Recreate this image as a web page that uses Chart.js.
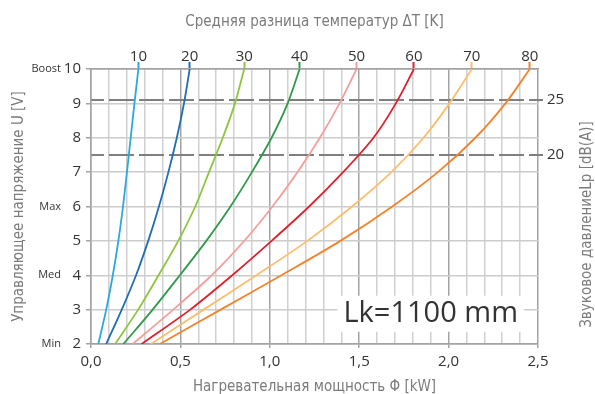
<!DOCTYPE html>
<html>
<head>
<meta charset="utf-8">
<script src="https://cdn.jsdelivr.net/npm/chart.js@4.4.1/dist/chart.umd.min.js"></script>
<style>
    html, body { margin: 0; padding: 0; background: #fff; }
</style>
</head>
<body>
<canvas id="Lk_Chart" width="595" height="394"></canvas>
<script>
// Spanning U [V] (verticale as) en de namen van de standen
var spanning = [2, 3, 4, 5, 6, 7, 8, 9, 10];
var standWaarden = [10, 6, 4, 2];
var standNamen = ['Boost', 'Max', 'Med', 'Min'];

// Temperatuurverschil dT [K] per curve
var deltaT = ['10', '20', '30', '40', '50', '60', '70', '80'];

var vermogenDT10 = [0.041, 0.085, 0.122, 0.153, 0.179, 0.201, 0.222, 0.243, 0.265];
var vermogenDT20 = [0.085, 0.172, 0.252, 0.320, 0.380, 0.433, 0.480, 0.520, 0.552];
var vermogenDT30 = [0.135, 0.264, 0.378, 0.488, 0.583, 0.660, 0.737, 0.805, 0.857];
var vermogenDT40 = [0.181, 0.345, 0.497, 0.645, 0.780, 0.900, 1.010, 1.100, 1.167];
var vermogenDT50 = [0.233, 0.460, 0.675, 0.857, 1.015, 1.155, 1.280, 1.390, 1.485];
var vermogenDT60 = [0.283, 0.555, 0.790, 1.010, 1.220, 1.410, 1.580, 1.705, 1.806];
var vermogenDT70 = [0.335, 0.630, 0.925, 1.210, 1.460, 1.680, 1.860, 2.005, 2.130];
var vermogenDT80 = [0.385, 0.725, 1.065, 1.395, 1.685, 1.940, 2.150, 2.318, 2.454];
var vermogens = [vermogenDT10, vermogenDT20, vermogenDT30, vermogenDT40,
                 vermogenDT50, vermogenDT60, vermogenDT70, vermogenDT80];

var kleuren = ['#29a9e0', '#1f6db2', '#8cc63e', '#2f9a48', '#f4a09c', '#e21f2c', '#fdbd6c', '#f5832a'];

// Geluidsdruk Lp [dB(A)] en de spanning waar die lijn ligt
var geluidLabels = ['25', '20'];
var geluidSpanning = [9.1, 7.5];

// Tekst in het kader en de plek ervan (in as-eenheden)
var kaderTekst = 'Lk=1100 mm';
var kaderVermogen = 1.9;
var kaderSpanning = 2.88;

var grijsTekst = '#7b7b7b';
var titelFont = "'Liberation Sans Narrow', 'DejaVu Sans Condensed', Roboto, sans-serif";
var cijferFont = "'Open Sans', 'Liberation Sans', sans-serif";
var rechtsTitel = 'Звуковое давлениеLp [dB(A)]';

function isHoofdlijn(waarde) {
    return Math.round(waarde * 10) % 5 === 0;
}

// Datasets opbouwen uit de arrays
function maakDatasets() {
    return deltaT.map(function (dt, i) {
        return {
            label: 'ΔT ' + dt,
            data: spanning.map(function (u, j) { return { x: vermogens[i][j], y: u }; }),
            borderColor: kleuren[i],
            borderWidth: 1.8,
            pointRadius: 0,
            tension: 0.3,
            fill: false,
            xAxisID: 'x',
            yAxisID: 'y'
        };
    });
}

// Titel rechts (van onder naar boven) en het Lk-kader
var extraTekst = {
    id: 'extraTekst',
    afterDatasetsDraw: function (chart) {
        var ctx = chart.ctx;
        var px = chart.scales.x.getPixelForValue(kaderVermogen);
        var py = chart.scales.y.getPixelForValue(kaderSpanning);
        ctx.save();
        ctx.font = '29px ' + cijferFont;
        var breedte = ctx.measureText(kaderTekst).width;
        ctx.fillStyle = '#fff';
        ctx.fillRect(px - breedte / 2 - 6, py - 18, breedte + 12, 36);
        ctx.fillStyle = '#333';
        ctx.textAlign = 'center';
        ctx.textBaseline = 'middle';
        ctx.fillText(kaderTekst, px, py);
        ctx.restore();
    },
    afterDraw: function (chart) {
        var ctx = chart.ctx;
        var s = chart.scales.y2;
        ctx.save();
        ctx.translate(s.right - 8, (chart.chartArea.top + chart.chartArea.bottom) / 2 + 18);
        ctx.rotate(-Math.PI / 2);
        ctx.font = '15px ' + titelFont;
        ctx.fillStyle = grijsTekst;
        ctx.textAlign = 'center';
        ctx.textBaseline = 'middle';
        ctx.fillText(rechtsTitel, 0, 0);
        ctx.restore();
    }
};

function tekenGrafiek() {
    var ctx = document.getElementById('Lk_Chart').getContext('2d');
    new Chart(ctx, {
        type: 'line',
        data: { datasets: maakDatasets() },
        plugins: [extraTekst],
        options: {
            responsive: false,
            animation: false,
            layout: { padding: 0 },
            plugins: { legend: { display: false }, tooltip: { enabled: false } },
            scales: {
                x: {
                    type: 'linear', position: 'bottom', min: 0, max: 2.5,
                    afterBuildTicks: function (s) {
                        s.ticks = [];
                        for (var i = 0; i <= 25; i++) s.ticks.push({ value: i / 10 });
                    },
                    afterFit: function (s) { s.height = 50; },
                    ticks: {
                        autoSkip: false, maxRotation: 0, padding: 5,
                        color: '#333', font: { family: cijferFont, size: 15 },
                        callback: function (v) { return isHoofdlijn(v) ? v.toFixed(1).replace('.', ',') : ''; }
                    },
                    grid: {
                        lineWidth: 1.5, tickLength: 4,
                        color: function (c) { return c.tick && isHoofdlijn(c.tick.value) ? '#a3a3a3' : '#d0d0d0'; },
                        tickColor: function (c) { return c.tick && isHoofdlijn(c.tick.value) ? '#a3a3a3' : 'rgba(0,0,0,0)'; }
                    },
                    border: { display: true, color: '#a3a3a3', width: 1.5 },
                    title: {
                        display: true, text: 'Нагревательная мощность Φ [kW]', color: grijsTekst,
                        font: { family: titelFont, size: 15 }, padding: { top: 0, bottom: -2 }
                    }
                },
                x2: {
                    type: 'linear', position: 'top', min: 0, max: 2.5,
                    afterBuildTicks: function (s) {
                        s.ticks = vermogens.map(function (rij) { return { value: rij[rij.length - 1] }; });
                    },
                    afterFit: function (s) { s.height = 69; },
                    ticks: {
                        autoSkip: false, maxRotation: 0, padding: -4,
                        color: '#333', font: { family: cijferFont, size: 15 },
                        callback: function (v, i) { return deltaT[i]; }
                    },
                    grid: {
                        drawOnChartArea: false, tickLength: 7, tickWidth: 2,
                        tickColor: function (c) { return kleuren[c.index]; }
                    },
                    border: { display: true, color: '#a3a3a3', width: 1.5 },
                    title: {
                        display: true, text: 'Средняя разница температур ΔT [K]', color: grijsTekst,
                        font: { family: titelFont, size: 15 }, padding: { top: 13, bottom: 0 }
                    }
                },
                y: {
                    type: 'linear', position: 'left', weight: 0, min: 2, max: 10,
                    afterFit: function (s) { s.width = 30; },
                    ticks: { stepSize: 1, padding: 5, color: '#333', font: { family: cijferFont, size: 15 } },
                    grid: {
                        lineWidth: 1.5, tickLength: 5, tickColor: '#a3a3a3',
                        color: function (c) { return c.tick && (c.tick.value === 2 || c.tick.value === 10) ? '#a3a3a3' : '#cccccc'; }
                    },
                    border: { display: true, color: '#a3a3a3', width: 1.5 }
                },
                yNaam: {
                    type: 'linear', position: 'left', weight: 1, min: 2, max: 10,
                    afterBuildTicks: function (s) {
                        s.ticks = standWaarden.map(function (v) { return { value: v }; });
                    },
                    afterFit: function (s) { s.width = 61; },
                    ticks: {
                        padding: 0, color: '#333', font: { family: cijferFont, size: 11 },
                        callback: function (v) { return standNamen[standWaarden.indexOf(v)]; }
                    },
                    grid: { display: false, drawTicks: false },
                    border: { display: false },
                    title: {
                        display: true, text: 'Управляющее напряжение U [V]', color: grijsTekst,
                        font: { family: titelFont, size: 15 }, padding: { top: 10, bottom: 0 }
                    }
                },
                y2: {
                    type: 'linear', position: 'right', min: 2, max: 10,
                    afterBuildTicks: function (s) {
                        s.ticks = geluidSpanning.map(function (v) { return { value: v }; });
                    },
                    afterFit: function (s) { s.width = 57; },
                    ticks: {
                        padding: 4, color: '#333', font: { family: cijferFont, size: 15 },
                        callback: function (v) { return geluidLabels[geluidSpanning.indexOf(v)]; }
                    },
                    grid: {
                        drawOnChartArea: true, color: '#7f7f7f', lineWidth: 2,
                        tickLength: 5, tickWidth: 2, tickColor: '#7f7f7f', tickBorderDash: []
                    },
                    border: { display: false, dash: [25, 5], dashOffset: 12 }
                }
            }
        }
    });
}

tekenGrafiek();
</script>
</body>
</html>
